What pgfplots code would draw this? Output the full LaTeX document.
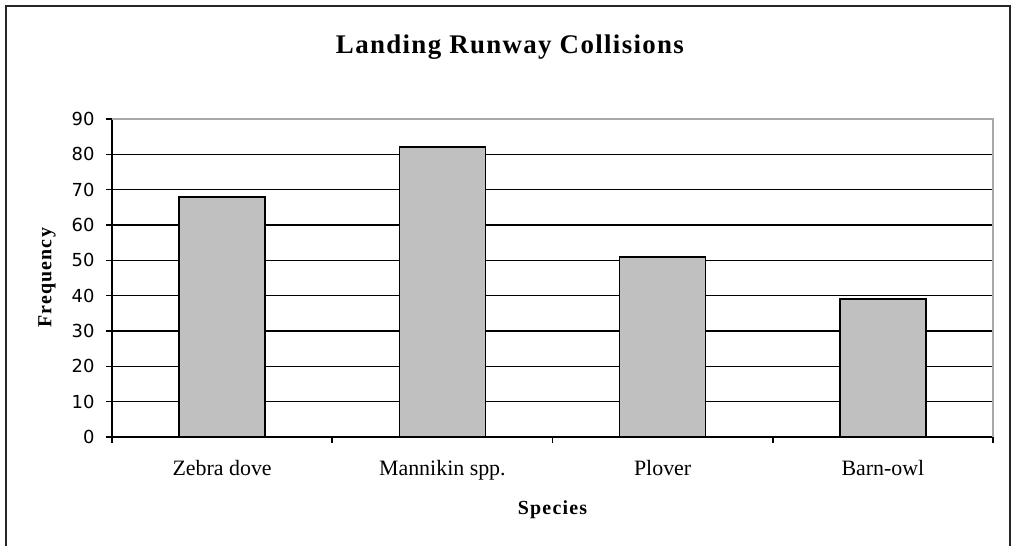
\documentclass[border=0pt]{standalone}
\usepackage{fontspec}
\setmainfont{Liberation Serif}
\newfontfamily\tickfont{DejaVu Sans}
\newfontfamily\titlefont[LetterSpace=5]{Liberation Serif}
\newfontfamily\labelfont[LetterSpace=6]{Liberation Serif}
\usepackage{pgfplots}
\pgfplotsset{compat=1.18}
\definecolor{barfill}{HTML}{C0C0C0}
\definecolor{bordergray}{HTML}{A8A8A8}
\begin{document}
\begin{tikzpicture}[x=1bp,y=1bp]
\useasboundingbox (0,0) rectangle (1013,546);
\clip (0,0) rectangle (1013,546);
\fill[white] (0,0) rectangle (1013,546);
\draw[line width=2bp, black!85] (6,-10) -- (6,540) -- (1010,540) -- (1010,-10);
\node[font=\titlefont\bfseries\fontsize{27}{31}\selectfont] at (510,499) {Landing Runway Collisions};
\begin{axis}[
  at={(112bp,109bp)}, anchor=south west,
  scale only axis, width=881bp, height=318bp,
  xmin=-0.5, xmax=3.5, ymin=0, ymax=90,
  ytick={0,10,...,90},
  xtick={0,1,2,3},
  xticklabels={Zebra dove, Mannikin spp., Plover, Barn-owl},
  minor xtick={-0.5,0.5,1.5,2.5,3.5},
  axis x line*=bottom, axis y line*=left,
  axis line style={-, line width=1.6bp, black},
  tick align=outside,
  major tick length=6bp, minor tick length=6bp,
  tick style={black, line width=1.6bp},
  major x tick style={draw=none},
  ymajorgrids, grid style={black, line width=1.6bp},
  /pgf/number format/assume math mode=true,
  yticklabel style={font=\tickfont\fontsize{18}{21}\selectfont, xshift=-8bp},
  xticklabel style={font=\fontsize{22}{26}\selectfont, yshift=-14bp},
  xlabel={Species}, ylabel={Frequency},
  every axis x label/.style={at={(axis description cs:0.5,-0.2296)}, anchor=center, font=\labelfont\bfseries\fontsize{20}{24}\selectfont},
  every axis y label/.style={at={(axis description cs:-0.0738,0.5)}, rotate=90, anchor=center, font=\labelfont\bfseries\fontsize{20}{24}\selectfont},
  after end axis/.code={\draw[bordergray, line width=1.6bp] (rel axis cs:0,1) -- (rel axis cs:1,1) -- (rel axis cs:1,0);},
]
\addplot[ybar, bar width=0.39, fill=barfill, draw=black, line width=1.6bp] coordinates {(0,68) (1,82) (2,51) (3,39)};
\end{axis}
\end{tikzpicture}
\end{document}
